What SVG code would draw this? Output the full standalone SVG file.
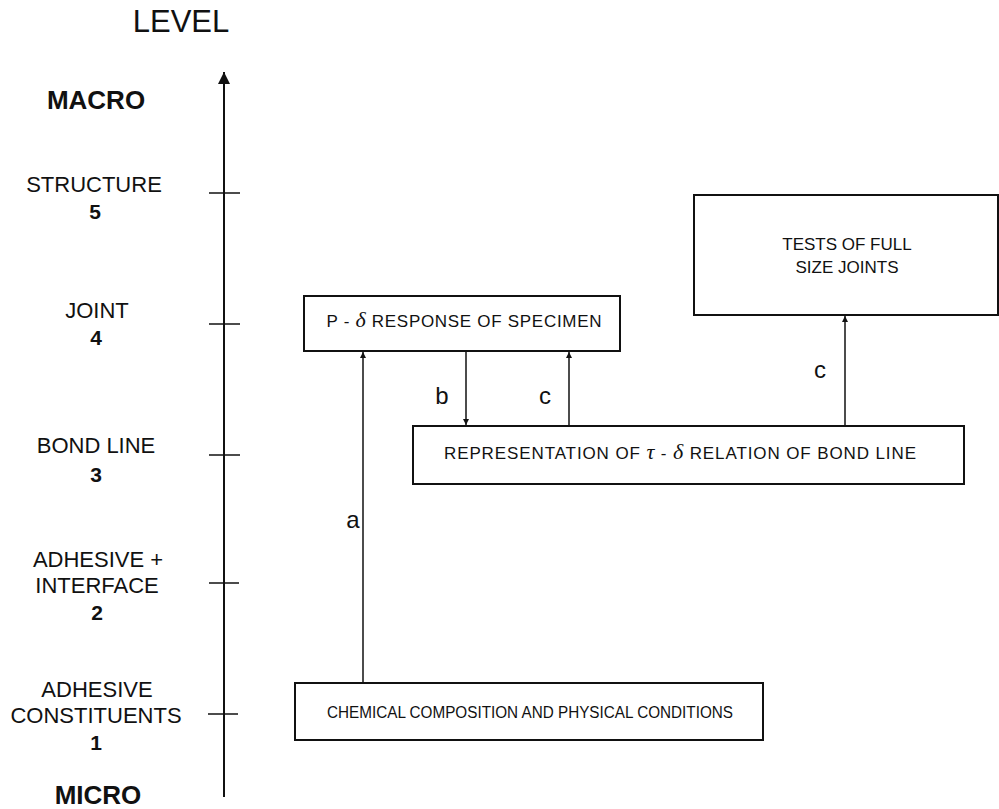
<svg xmlns="http://www.w3.org/2000/svg" width="999" height="809" viewBox="0 0 999 809">
<defs>
<style>
text{font-family:"Liberation Sans",Arial,sans-serif;fill:#111}
.lv{font-size:22px;text-anchor:middle}
.num{font-size:21px;font-weight:bold;text-anchor:middle}
.big{font-size:26px;font-weight:bold;text-anchor:middle}
.bx{font-size:17px;text-anchor:middle}
.lab{font-size:24px;text-anchor:middle}
.gr{font-family:"Liberation Serif","Times New Roman",serif;font-style:italic;font-size:22px}
.box{fill:#fff;stroke:#111;stroke-width:2}
.ln{stroke:#111;stroke-width:1.5;fill:none}
</style>
<marker id="ah" viewBox="0 0 10 10" refX="10" refY="5" markerWidth="10" markerHeight="6" markerUnits="userSpaceOnUse" orient="auto">
<path d="M0,0 L10,5 L0,10 z" fill="#111"/>
</marker>
<marker id="axh" viewBox="0 0 10 10" refX="10" refY="5" markerWidth="28" markerHeight="12" markerUnits="userSpaceOnUse" orient="auto">
<path d="M0,0 L10,5 L0,10 z" fill="#111"/>
</marker>
</defs>
<rect width="999" height="809" fill="#fff"/>
<g id="axis">
<text x="181" y="32" style="font-size:31px;text-anchor:middle">LEVEL</text>
<line class="ln" x1="224" y1="797" x2="224" y2="72" marker-end="url(#axh)" style="stroke-width:2"/>
<line class="ln" x1="209" y1="193" x2="240" y2="193"/>
<line class="ln" x1="209" y1="324" x2="240" y2="324"/>
<line class="ln" x1="209" y1="455" x2="240" y2="455"/>
<line class="ln" x1="209" y1="583" x2="239" y2="583"/>
<line class="ln" x1="208" y1="714" x2="238" y2="714"/>
<text class="big" x="96" y="109">MACRO</text>
<text class="lv" x="94" y="192">STRUCTURE</text>
<text class="num" x="95" y="219">5</text>
<text class="lv" x="97" y="318">JOINT</text>
<text class="num" x="96" y="345">4</text>
<text class="lv" x="96" y="453">BOND LINE</text>
<text class="num" x="96" y="482">3</text>
<text class="lv" x="98" y="567">ADHESIVE +</text>
<text class="lv" x="97" y="593">INTERFACE</text>
<text class="num" x="97" y="620">2</text>
<text class="lv" x="97" y="697">ADHESIVE</text>
<text class="lv" x="96" y="723">CONSTITUENTS</text>
<text class="num" x="96" y="750">1</text>
<text class="big" x="98" y="804">MICRO</text>
</g>
<g id="connectors">
<line class="ln" x1="363" y1="683" x2="363" y2="352" marker-end="url(#ah)"/>
<line class="ln" x1="466" y1="351" x2="466" y2="425" marker-end="url(#ah)"/>
<line class="ln" x1="569" y1="426" x2="569" y2="352" marker-end="url(#ah)"/>
<line class="ln" x1="845" y1="426" x2="845" y2="316" marker-end="url(#ah)"/>
<text class="lab" x="353" y="528">a</text>
<text class="lab" x="442" y="404">b</text>
<text class="lab" x="545" y="404">c</text>
<text class="lab" x="820" y="378">c</text>
</g>
<g id="node-tests">
<rect class="box" x="694" y="195" width="304" height="120"/>
<text class="bx" x="847" y="250">TESTS OF FULL</text>
<text class="bx" x="847" y="273">SIZE JOINTS</text>
</g>
<g id="node-pdelta">
<rect class="box" x="304" y="296" width="316" height="55"/>
<text class="bx" x="464" y="327" textLength="275" lengthAdjust="spacing">P - <tspan class="gr">δ</tspan> RESPONSE OF SPECIMEN</text>
</g>
<g id="node-representation">
<rect class="box" x="413" y="426" width="551" height="58"/>
<text class="bx" x="680" y="459" textLength="472" lengthAdjust="spacing">REPRESENTATION OF  <tspan class="gr">τ</tspan> - <tspan class="gr">δ</tspan> RELATION OF BOND LINE</text>
</g>
<g id="node-chemical">
<rect class="box" x="295" y="683" width="468" height="57"/>
<text class="bx" x="530" y="718" style="font-size:16px" textLength="406" lengthAdjust="spacingAndGlyphs">CHEMICAL COMPOSITION  AND PHYSICAL CONDITIONS</text>
</g>
</svg>
